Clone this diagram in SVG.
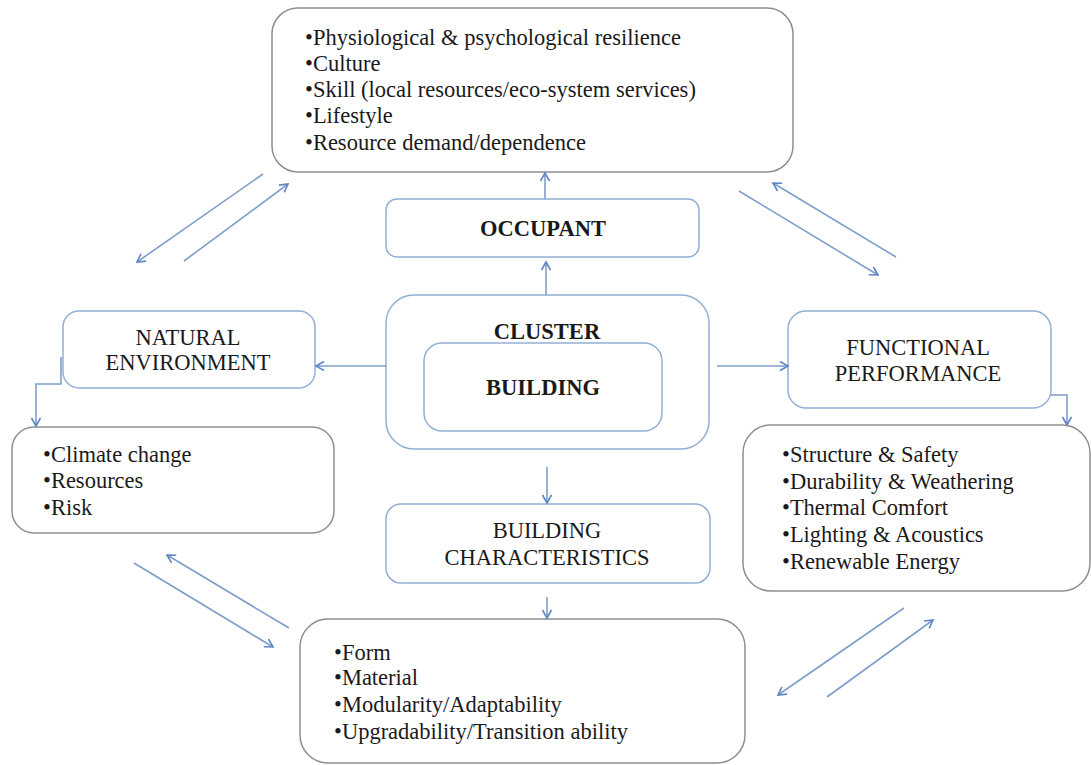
<svg xmlns="http://www.w3.org/2000/svg" width="1091" height="765" viewBox="0 0 1091 765">
<style>
.bg{fill:#ffffff}
.bn{fill:#ffffff;stroke:#93afd4;stroke-width:1.5}
.gn{fill:#ffffff;stroke:#8f8f8f;stroke-width:1.5}
.t{font-family:"Liberation Serif","Times New Roman",serif;font-size:22.5px;fill:#1a1a1a}
.c{text-anchor:middle}
.b{font-weight:bold}
.ln{fill:none;stroke:#7f9dca;stroke-width:1.6}
</style>
<defs>
<marker id="ah" markerWidth="12" markerHeight="12" refX="9" refY="5" orient="auto" markerUnits="userSpaceOnUse">
<path d="M1,0.5 L9,5 L1,9.5" fill="none" stroke="#5f86c2" stroke-width="1.6"/>
</marker>
</defs>
<rect class="bg" x="0" y="0" width="1091" height="765"/>

<g id="occupant-list">
<rect class="gn" x="272" y="8" width="521" height="164" rx="26"/>
<text class="t" x="305" y="45">•Physiological &amp; psychological resilience</text>
<text class="t" x="305" y="71">•Culture</text>
<text class="t" x="305" y="97">•Skill (local resources/eco-system services)</text>
<text class="t" x="305" y="123">•Lifestyle</text>
<text class="t" x="305" y="150">•Resource demand/dependence</text>
</g>

<g id="occupant">
<rect class="bn" x="386" y="199" width="313" height="58" rx="11"/>
<text class="t c b" x="543" y="236">OCCUPANT</text>
</g>

<g id="cluster">
<rect class="bn" x="386" y="295" width="323" height="154" rx="28"/>
<text class="t c b" x="547" y="339">CLUSTER</text>
</g>

<g id="building">
<rect class="bn" x="424" y="343" width="238" height="88" rx="18"/>
<text class="t c b" x="543" y="395">BUILDING</text>
</g>

<g id="natural-environment">
<rect class="bn" x="63" y="311" width="252" height="77" rx="16"/>
<text class="t c" x="188" y="345">NATURAL</text>
<text class="t c" x="188" y="370">ENVIRONMENT</text>
</g>

<g id="environment-list">
<rect class="gn" x="12" y="427" width="322" height="106" rx="22"/>
<text class="t" x="43" y="462">•Climate change</text>
<text class="t" x="43" y="488">•Resources</text>
<text class="t" x="43" y="515">•Risk</text>
</g>

<g id="functional-performance">
<rect class="bn" x="788" y="311" width="263" height="97" rx="18"/>
<text class="t c" x="918" y="355">FUNCTIONAL</text>
<text class="t c" x="918" y="381">PERFORMANCE</text>
</g>

<g id="performance-list">
<rect class="gn" x="743" y="425" width="347" height="166" rx="28"/>
<text class="t" x="782" y="462">•Structure &amp; Safety</text>
<text class="t" x="782" y="489">•Durability &amp; Weathering</text>
<text class="t" x="782" y="515">•Thermal Comfort</text>
<text class="t" x="782" y="542">•Lighting &amp; Acoustics</text>
<text class="t" x="782" y="569">•Renewable Energy</text>
</g>

<g id="building-characteristics">
<rect class="bn" x="386" y="504" width="324" height="79" rx="15"/>
<text class="t c" x="547" y="538">BUILDING</text>
<text class="t c" x="547" y="565">CHARACTERISTICS</text>
</g>

<g id="characteristics-list">
<rect class="gn" x="300" y="619" width="445" height="144" rx="28"/>
<text class="t" x="334" y="660">•Form</text>
<text class="t" x="334" y="685">•Material</text>
<text class="t" x="334" y="712">•Modularity/Adaptability</text>
<text class="t" x="334" y="739">•Upgradability/Transition ability</text>
</g>

<g id="connectors">
<line class="ln" x1="545" y1="199" x2="545" y2="173" marker-end="url(#ah)"/>
<line class="ln" x1="546" y1="295" x2="546" y2="262" marker-end="url(#ah)"/>
<line class="ln" x1="547" y1="467" x2="547" y2="503" marker-end="url(#ah)"/>
<line class="ln" x1="547" y1="597" x2="547" y2="618" marker-end="url(#ah)"/>
<line class="ln" x1="386" y1="366" x2="316" y2="366" marker-end="url(#ah)"/>
<line class="ln" x1="717" y1="366" x2="788" y2="366" marker-end="url(#ah)"/>
<polyline class="ln" points="61,357 61,384 36,384 36,426" marker-end="url(#ah)"/>
<polyline class="ln" points="1051,395 1067,395 1067,425" marker-end="url(#ah)"/>
<line class="ln" x1="263" y1="174" x2="137" y2="262" marker-end="url(#ah)"/>
<line class="ln" x1="184" y1="261" x2="288" y2="184" marker-end="url(#ah)"/>
<line class="ln" x1="739" y1="191" x2="878" y2="275" marker-end="url(#ah)"/>
<line class="ln" x1="896" y1="257" x2="773" y2="183" marker-end="url(#ah)"/>
<line class="ln" x1="134" y1="563" x2="273" y2="647" marker-end="url(#ah)"/>
<line class="ln" x1="289" y1="628" x2="167" y2="555" marker-end="url(#ah)"/>
<line class="ln" x1="904" y1="608" x2="778" y2="695" marker-end="url(#ah)"/>
<line class="ln" x1="827" y1="697" x2="933" y2="620" marker-end="url(#ah)"/>
</g>
</svg>
